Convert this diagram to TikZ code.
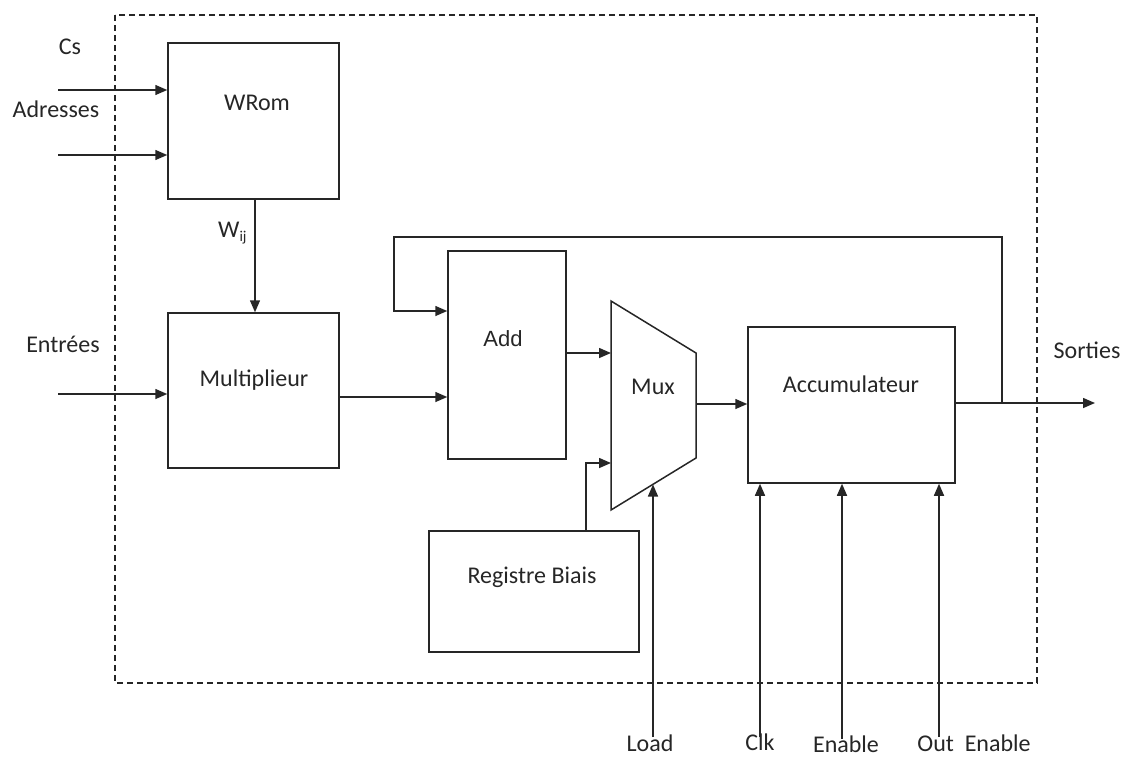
\documentclass[tikz,border=0pt]{standalone}
\usepackage{fontspec}
\setmainfont{Carlito}
\newfontfamily\arialfont{Liberation Sans}
\usetikzlibrary{arrows.meta}
\definecolor{ink}{HTML}{262626}
\tikzset{
  lbl/.style={inner sep=0pt, anchor=base, text=ink, font=\fontsize{24}{28}\selectfont},
  blk/.style={draw=ink, line width=1.5pt, fill=none, inner sep=0pt},
  wire/.style={draw=ink, line width=1.5pt},
  arr/.style={wire, -{Triangle[length=12pt,width=10pt]}},
  frame/.style={draw=ink, line width=1.3pt, dash pattern=on 6pt off 4pt}
}
\begin{document}
\begin{tikzpicture}[x=1pt,y=-1pt]
\useasboundingbox (0,0) rectangle (1126,758);
% dashed frame
\draw[frame] (115,15) rectangle (1037,683);
% blocks
\node[blk, minimum width=171pt, minimum height=156pt] (wrom) at (253.5,121) {};
\node[blk, minimum width=171pt, minimum height=155pt] (mult) at (253.5,390.5) {};
\node[blk, minimum width=118pt, minimum height=208pt] (add) at (507,355) {};
\node[blk, minimum width=207pt, minimum height=156pt] (acc) at (851.5,405) {};
\node[blk, minimum width=210pt, minimum height=121pt] (reg) at (534,591.5) {};
% mux trapezoid
\coordinate (m1) at (611,301);
\coordinate (m2) at (696,353);
\coordinate (m3) at (696,458);
\coordinate (m4) at (611,510);
\draw[wire, line join=miter] (m1) -- (m2) -- (m3) -- (m4) -- cycle;
% texts
\node[lbl] (tcs) at (70,54) {Cs};
\node[lbl] (tadr) at (56,117) {Adresses};
\node[lbl] (twrom) at (257,110) {WRom};
\node[lbl, anchor=base west] (tw) at (218,237) {W\raisebox{-0.35ex}{\fontsize{15}{18}\selectfont ij}};
\node[lbl] (tent) at (63,352) {Entrées};
\node[lbl] (tmult) at (254,386) {Multiplieur};
\node[lbl, font=\arialfont\fontsize{22}{26}\selectfont] (tadd) at (503,346) {Add};
\node[lbl] (tmux) at (653,394) {Mux};
\node[lbl] (tacc) at (851,392) {Accumulateur};
\node[lbl] (treg) at (532,583) {Registre Biais};
\node[lbl] (tsor) at (1087,358) {Sorties};
\node[lbl] (tload) at (650,751) {Load};
\node[lbl] (tclk) at (760,750) {Clk};
\node[lbl] (tena) at (846,752) {Enable};
\node[lbl] (tout) at (974,751) {Out\ \ Enable};
% input coordinates
\coordinate (cs0) at (58,90);
\coordinate (ad0) at (58,155);
\coordinate (en0) at (58,394);
\draw[arr] (cs0) -- (wrom.west |- cs0);
\draw[arr] (ad0) -- (wrom.west |- ad0);
\draw[arr] (en0) -- (mult.west |- en0);
% W_ij
\coordinate (w0) at (255,199);
\draw[arr] (w0) -- (w0 |- mult.north);
% mult -> add
\coordinate (mo) at (339,397);
\draw[arr] (mo) -- (add.west |- mo);
% feedback
\coordinate (fb0) at (1002,403);
\coordinate (fb1) at (1002,237);
\coordinate (fb2) at (394,237);
\coordinate (fb3) at (394,311);
\draw[arr] (fb0) -- (fb1) -- (fb2) -- (fb3) -- (add.west |- fb3);
% add -> mux
\coordinate (ai) at (611,353);
\draw[arr] (add.east |- ai) -- (ai);
% reg -> mux
\coordinate (r0) at (586,463);
\coordinate (ri) at (611,463);
\draw[arr] (reg.north -| r0) -- (r0) -- (ri);
% load
\coordinate (ld0) at (653,737);
\coordinate (ld1) at (653,484.5);
\draw[arr] (ld0) -- (ld1);
% mux -> acc
\coordinate (mx) at (696,404);
\draw[arr] (mx) -- (acc.west |- mx);
% acc -> out
\coordinate (so) at (1095,403);
\draw[arr] (acc.east |- so) -- (so);
% control lines
\coordinate (ck) at (760,737);
\coordinate (eb) at (842,739);
\coordinate (oe) at (939,737);
\draw[arr] (ck) -- (ck |- acc.south);
\draw[arr] (eb) -- (eb |- acc.south);
\draw[arr] (oe) -- (oe |- acc.south);
\end{tikzpicture}
\end{document}
